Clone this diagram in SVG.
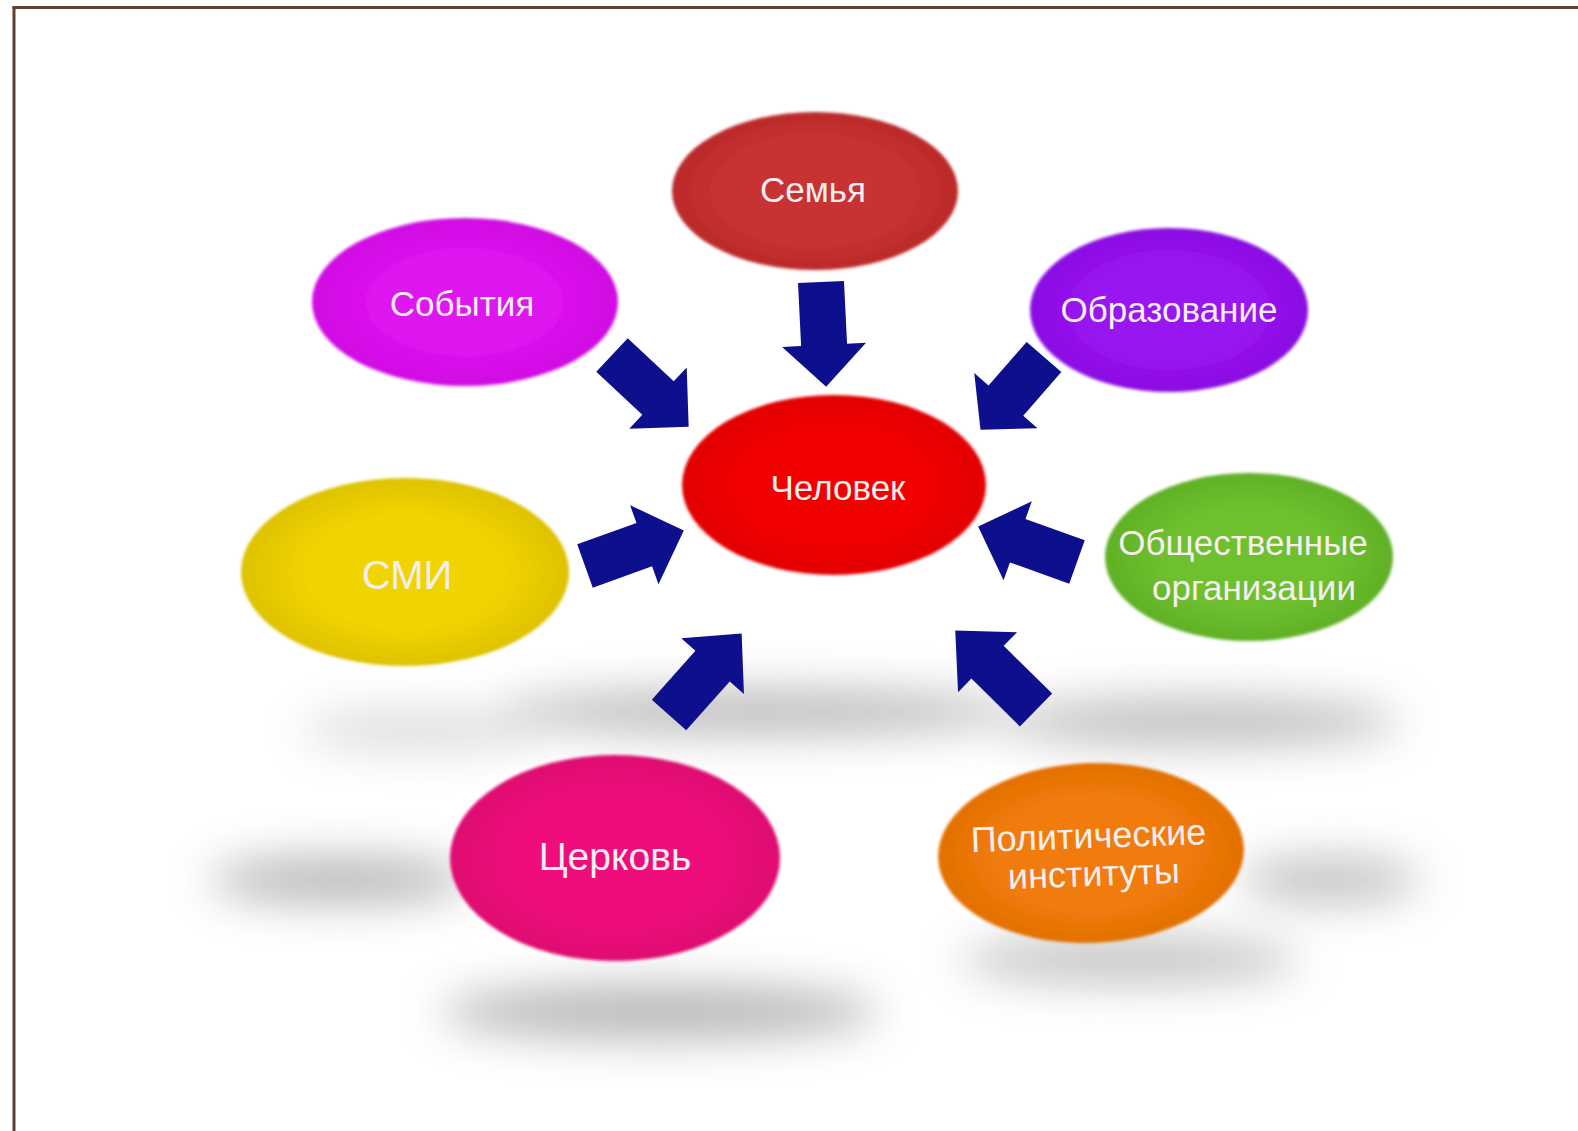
<svg xmlns="http://www.w3.org/2000/svg" width="1578" height="1131" viewBox="0 0 1578 1131">
  <style>
    .lbl { font-family: "Liberation Sans", Arial, sans-serif; font-size: 35px; fill: #f6eef0; text-anchor: middle; }
    .arrow { fill: #0d0f8c; }
    .shadow { fill: #8a8a8a; filter: url(#blur); }
  </style>
  <defs>
    <filter id="blur" filterUnits="userSpaceOnUse" x="0" y="0" width="1578" height="1131">
      <feGaussianBlur stdDeviation="22"/>
    </filter>
    <filter id="soft" x="-10%" y="-10%" width="120%" height="120%">
      <feGaussianBlur stdDeviation="1.5"/>
    </filter>
    <radialGradient id="gSem" cx="50%" cy="50%" r="50%"><stop offset="0.6" stop-color="#c93232"/><stop offset="1" stop-color="#bb2a2a"/></radialGradient>
    <radialGradient id="gSob" cx="50%" cy="50%" r="50%"><stop offset="0.6" stop-color="#de12ef"/><stop offset="1" stop-color="#cf0ce2"/></radialGradient>
    <radialGradient id="gObr" cx="50%" cy="50%" r="50%"><stop offset="0.6" stop-color="#9814ef"/><stop offset="1" stop-color="#8a0ce2"/></radialGradient>
    <radialGradient id="gChe" cx="50%" cy="50%" r="50%"><stop offset="0.6" stop-color="#f20505"/><stop offset="1" stop-color="#e20202"/></radialGradient>
    <radialGradient id="gSmi" cx="50%" cy="50%" r="50%"><stop offset="0.6" stop-color="#f0d402"/><stop offset="1" stop-color="#dec200"/></radialGradient>
    <radialGradient id="gObs" cx="50%" cy="50%" r="50%"><stop offset="0.6" stop-color="#6ec02e"/><stop offset="1" stop-color="#60b026"/></radialGradient>
    <radialGradient id="gPol" cx="50%" cy="50%" r="50%"><stop offset="0.6" stop-color="#f17c08"/><stop offset="1" stop-color="#e27004"/></radialGradient>
    <radialGradient id="gTse" cx="50%" cy="50%" r="50%"><stop offset="0.6" stop-color="#ef0c7c"/><stop offset="1" stop-color="#de0870"/></radialGradient>
    <path id="arr" d="M0,-23 L63,-23 L63,-42 L105,0 L63,42 L63,23 L0,23 Z"/>
  </defs>

  <rect x="0" y="0" width="1578" height="1131" fill="#ffffff"/>

  <g id="shadows">
    <ellipse class="shadow" cx="760" cy="712" rx="260" ry="22" opacity="0.6"/>
    <ellipse class="shadow" cx="1200" cy="722" rx="200" ry="24" opacity="0.55"/>
    <ellipse class="shadow" cx="420" cy="730" rx="120" ry="20" opacity="0.3"/>
    <ellipse class="shadow" cx="340" cy="880" rx="130" ry="24" opacity="0.6"/>
    <ellipse class="shadow" cx="1330" cy="880" rx="90" ry="24" opacity="0.5"/>
    <ellipse class="shadow" cx="660" cy="1012" rx="220" ry="28" opacity="0.6"/>
    <ellipse class="shadow" cx="1130" cy="960" rx="170" ry="24" opacity="0.5"/>
  </g>

  <g id="frame" fill="none" stroke="#5c4030" stroke-width="3">
    <line x1="12.5" y1="7.5" x2="1578" y2="7.5"/>
    <line x1="14" y1="6" x2="14" y2="1131"/>
  </g>

  <g id="connectors" class="arrow">
    <use href="#arr" transform="translate(821,282) rotate(87.2)"/>
    <use href="#arr" transform="translate(612,355) rotate(43.1)"/>
    <use href="#arr" transform="translate(1044,357) rotate(131.1) scale(0.92,1)"/>
    <use href="#arr" transform="translate(585,566) rotate(-19.8)"/>
    <use href="#arr" transform="translate(1077,562) rotate(199.7)"/>
    <use href="#arr" transform="translate(669,715) rotate(-48.3) scale(1.04,1)"/>
    <use href="#arr" transform="translate(1036,710) rotate(-135.4) scale(1.08,1)"/>
  </g>

  <g id="node-semya">
    <ellipse cx="815" cy="191" rx="143" ry="79" fill="url(#gSem)" filter="url(#soft)"/>
    <text class="lbl" x="813" y="202">Семья</text>
  </g>
  <g id="node-sobytiya">
    <ellipse cx="465" cy="302" rx="153" ry="84" fill="url(#gSob)" filter="url(#soft)"/>
    <text class="lbl" x="462" y="316">События</text>
  </g>
  <g id="node-obrazovanie">
    <ellipse cx="1169" cy="310" rx="139" ry="82" fill="url(#gObr)" filter="url(#soft)"/>
    <text class="lbl" x="1169" y="322">Образование</text>
  </g>
  <g id="node-chelovek">
    <ellipse cx="834" cy="485" rx="152" ry="90" fill="url(#gChe)" filter="url(#soft)"/>
    <text class="lbl" x="838" y="500">Человек</text>
  </g>
  <g id="node-smi">
    <ellipse cx="405" cy="572" rx="164" ry="94" fill="url(#gSmi)" filter="url(#soft)"/>
    <text class="lbl" x="407" y="589" style="font-size:40px">СМИ</text>
  </g>
  <g id="node-obshchestvennye">
    <ellipse cx="1249" cy="557" rx="144" ry="84" fill="url(#gObs)" filter="url(#soft)"/>
    <text class="lbl" x="1243" y="555">Общественные</text>
    <text class="lbl" x="1254" y="600">организации</text>
  </g>
  <g id="node-tserkov">
    <ellipse cx="615" cy="858" rx="165" ry="103" fill="url(#gTse)" filter="url(#soft)"/>
    <text class="lbl" x="615" y="870" style="font-size:39px">Церковь</text>
  </g>
  <g id="node-politicheskie" transform="rotate(-2 1091 853)">
    <ellipse cx="1091" cy="853" rx="153" ry="90" fill="url(#gPol)" filter="url(#soft)"/>
    <text class="lbl" x="1089" y="848" style="font-size:36px">Политические</text>
    <text class="lbl" x="1093" y="886" style="font-size:36px">институты</text>
  </g>
</svg>
